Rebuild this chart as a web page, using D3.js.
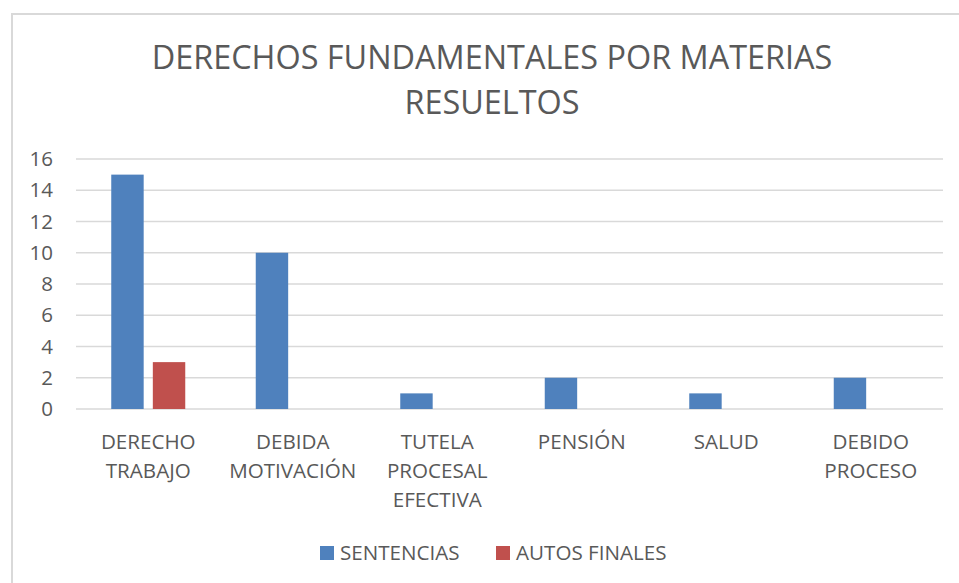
<!DOCTYPE html>
<html>
<head>
<meta charset="utf-8">
<script src="https://cdn.jsdelivr.net/npm/d3@7"></script>
<style>
  html, body { margin: 0; padding: 0; background: #fff; }
  svg { display: block; font-family: "Open Sans", sans-serif; }
</style>
</head>
<body>
<svg id="chart" width="959" height="583"></svg>
<script>
const categories = [
  ["DERECHO", "TRABAJO"],
  ["DEBIDA", "MOTIVACIÓN"],
  ["TUTELA", "PROCESAL", "EFECTIVA"],
  ["PENSIÓN"],
  ["SALUD"],
  ["DEBIDO", "PROCESO"]
];
const seriesNames = ["SENTENCIAS", "AUTOS FINALES"];
const sentencias = [15, 10, 1, 2, 1, 2];
const autosFinales = [3, 0, 0, 0, 0, 0];
const yTicks = [0, 2, 4, 6, 8, 10, 12, 14, 16];
const titleLines = ["DERECHOS FUNDAMENTALES POR MATERIAS", "RESUELTOS"];

const colors = ["#4f81bd", "#c0504d"];
const textColor = "#595959";

const svg = d3.select("#chart");
const W = 959, H = 583;
const plot = { left: 76, right: 943, top: 159, bottom: 409 };

// marco del gráfico
svg.append("rect")
  .attr("x", 12).attr("y", 14)
  .attr("width", W + 10).attr("height", H + 10)
  .attr("fill", "#fff")
  .attr("stroke", "#d9d9d9").attr("stroke-width", 2);

// título
svg.append("text")
  .attr("x", 492).attr("text-anchor", "middle")
  .attr("fill", textColor).style("font-size", "32.4px")
  .selectAll("tspan").data(titleLines).join("tspan")
  .attr("x", 492)
  .attr("y", (d, i) => 69 + i * 45)
  .text(d => d);

const keys = categories.map((c, i) => i);
const x = d3.scaleBand().domain(keys).range([plot.left, plot.right]);
const y = d3.scaleLinear().domain([0, 16]).range([plot.bottom, plot.top]);

// barras dentro de cada banda: grupo de ~74px
const inner = d3.scaleBand().domain([0, 1])
  .range([0, 74]).paddingInner(0.22);
const groupOffset = (x.bandwidth() - 74) / 2;

// líneas de cuadrícula
svg.append("g")
  .selectAll("line").data(yTicks).join("line")
  .attr("x1", plot.left).attr("x2", plot.right)
  .attr("y1", d => y(d)).attr("y2", d => y(d))
  .attr("stroke", "#d9d9d9").attr("stroke-width", 1.5);

// eje y
const yAxis = d3.axisLeft(y).tickValues(yTicks).tickSize(0).tickPadding(0);
svg.append("g")
  .attr("transform", `translate(${plot.left - 23},0)`)
  .call(yAxis)
  .call(g => g.select(".domain").remove())
  .call(g => g.selectAll("text")
    .attr("fill", textColor)
    .style("font-size", "20.5px")
    .style("font-family", "'Open Sans', sans-serif"));

// barras
const series = [sentencias, autosFinales];
series.forEach((vals, s) => {
  svg.append("g")
    .selectAll("rect").data(vals.map((v, i) => ({ v, i })).filter(d => d.v > 0)).join("rect")
    .attr("x", d => x(d.i) + groupOffset + inner(s))
    .attr("width", inner.bandwidth())
    .attr("y", d => y(d.v))
    .attr("height", d => y(0) - y(d.v))
    .attr("fill", colors[s]);
});

// etiquetas de categorías
const xl = svg.append("g");
categories.forEach((lines, i) => {
  xl.append("text")
    .attr("text-anchor", "middle")
    .attr("fill", textColor)
    .style("font-size", "20.6px")
    .selectAll("tspan").data(lines).join("tspan")
    .attr("x", x(i) + x.bandwidth() / 2)
    .attr("y", (d, j) => 449 + j * 29)
    .text(d => d);
});

// leyenda
const legendItems = [
  { name: seriesNames[0], color: colors[0], x: 320 },
  { name: seriesNames[1], color: colors[1], x: 496 }
];
const lg = svg.append("g");
legendItems.forEach(d => {
  lg.append("rect").attr("x", d.x).attr("y", 546)
    .attr("width", 14).attr("height", 14).attr("fill", d.color);
  lg.append("text").attr("x", d.x + 20).attr("y", 560)
    .attr("fill", textColor).style("font-size", "20.6px")
    .text(d.name);
});
</script>
</body>
</html>
